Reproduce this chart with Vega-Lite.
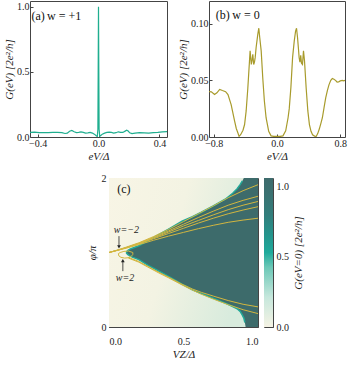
{
  "$schema": "https://vega.github.io/schema/vega-lite/v6.json",
  "padding": {"left": 3, "top": 0, "right": 0, "bottom": 0},
  "background": "white",
  "config": {
    "font": "Liberation Serif",
    "style": {
      "guide-label": {"font": "Liberation Serif", "fontSize": 10, "fill": "#222"},
      "guide-title": {"font": "Liberation Serif", "fontSize": 11, "fontStyle": "italic", "fontWeight": "normal", "fill": "#222"}
    },
    "view": {"stroke": "#444", "strokeWidth": 1},
    "axis": {
      "labelFont": "Liberation Serif", "labelFontSize": 10, "labelColor": "#222",
      "titleFont": "Liberation Serif", "titleFontSize": 11, "titleFontStyle": "italic",
      "titleFontWeight": "normal", "titleColor": "#222",
      "grid": false, "domain": false, "tickColor": "#444", "tickSize": -3, "labelPadding": 4, "titlePadding": 2
    }
  },
  "datasets": {
    "a": [
      {"e": -0.45, "g": 0.036}, {"e": -0.42, "g": 0.037}, {"e": -0.39, "g": 0.034}, {"e": -0.36, "g": 0.033},
      {"e": -0.33, "g": 0.034}, {"e": -0.3, "g": 0.036}, {"e": -0.27, "g": 0.035}, {"e": -0.24, "g": 0.033},
      {"e": -0.22, "g": 0.027}, {"e": -0.205, "g": 0.03}, {"e": -0.19, "g": 0.044}, {"e": -0.175, "g": 0.05},
      {"e": -0.16, "g": 0.04}, {"e": -0.145, "g": 0.034}, {"e": -0.13, "g": 0.036}, {"e": -0.115, "g": 0.04},
      {"e": -0.1, "g": 0.036}, {"e": -0.085, "g": 0.03}, {"e": -0.07, "g": 0.032}, {"e": -0.055, "g": 0.035},
      {"e": -0.04, "g": 0.03}, {"e": -0.025, "g": 0.02}, {"e": -0.015, "g": 0.01}, {"e": -0.008, "g": 0.004},
      {"e": -0.004, "g": 0.06}, {"e": -0.002, "g": 0.5}, {"e": 0, "g": 1.0}, {"e": 0.002, "g": 0.5},
      {"e": 0.004, "g": 0.06}, {"e": 0.008, "g": 0.004}, {"e": 0.015, "g": 0.012}, {"e": 0.025, "g": 0.022},
      {"e": 0.04, "g": 0.03}, {"e": 0.055, "g": 0.035}, {"e": 0.07, "g": 0.037}, {"e": 0.085, "g": 0.035},
      {"e": 0.1, "g": 0.03}, {"e": 0.115, "g": 0.033}, {"e": 0.13, "g": 0.04}, {"e": 0.145, "g": 0.036},
      {"e": 0.16, "g": 0.035}, {"e": 0.175, "g": 0.045}, {"e": 0.185, "g": 0.052}, {"e": 0.195, "g": 0.046},
      {"e": 0.205, "g": 0.032}, {"e": 0.22, "g": 0.026}, {"e": 0.24, "g": 0.03}, {"e": 0.27, "g": 0.034},
      {"e": 0.3, "g": 0.032}, {"e": 0.33, "g": 0.03}, {"e": 0.36, "g": 0.033}, {"e": 0.39, "g": 0.036},
      {"e": 0.42, "g": 0.04}, {"e": 0.45, "g": 0.042}
    ],
    "b": [
      {"e": -0.86, "g": 0.04}, {"e": -0.83, "g": 0.0398}, {"e": -0.79, "g": 0.0375}, {"e": -0.76, "g": 0.039},
      {"e": -0.725, "g": 0.042}, {"e": -0.69, "g": 0.041}, {"e": -0.65, "g": 0.04}, {"e": -0.62, "g": 0.0375},
      {"e": -0.58, "g": 0.0286}, {"e": -0.536, "g": 0.014}, {"e": -0.515, "g": 0.0075}, {"e": -0.494, "g": 0.0035},
      {"e": -0.48, "g": 0.0006}, {"e": -0.46, "g": 0.002}, {"e": -0.43, "g": 0.006}, {"e": -0.41, "g": 0.011},
      {"e": -0.39, "g": 0.023}, {"e": -0.369, "g": 0.043}, {"e": -0.348, "g": 0.067}, {"e": -0.34, "g": 0.076},
      {"e": -0.325, "g": 0.064}, {"e": -0.315, "g": 0.068}, {"e": -0.306, "g": 0.073}, {"e": -0.295, "g": 0.064},
      {"e": -0.285, "g": 0.066}, {"e": -0.276, "g": 0.07}, {"e": -0.264, "g": 0.079}, {"e": -0.243, "g": 0.0906},
      {"e": -0.23, "g": 0.096}, {"e": -0.218, "g": 0.0876}, {"e": -0.2, "g": 0.076}, {"e": -0.18, "g": 0.052},
      {"e": -0.16, "g": 0.032}, {"e": -0.138, "g": 0.017}, {"e": -0.105, "g": 0.005}, {"e": -0.075, "g": 0.001},
      {"e": -0.04, "g": 0.0005}, {"e": 0, "g": 0.0005}, {"e": 0.04, "g": 0.0005}, {"e": 0.075, "g": 0.001},
      {"e": 0.11, "g": 0.0055}, {"e": 0.14, "g": 0.017}, {"e": 0.155, "g": 0.025}, {"e": 0.176, "g": 0.044},
      {"e": 0.197, "g": 0.07}, {"e": 0.218, "g": 0.0846}, {"e": 0.235, "g": 0.0935}, {"e": 0.247, "g": 0.096},
      {"e": 0.26, "g": 0.0876}, {"e": 0.27, "g": 0.079}, {"e": 0.28, "g": 0.07}, {"e": 0.29, "g": 0.066},
      {"e": 0.3, "g": 0.072}, {"e": 0.31, "g": 0.065}, {"e": 0.322, "g": 0.064}, {"e": 0.335, "g": 0.076},
      {"e": 0.348, "g": 0.067}, {"e": 0.369, "g": 0.043}, {"e": 0.39, "g": 0.023}, {"e": 0.41, "g": 0.011},
      {"e": 0.43, "g": 0.005}, {"e": 0.45, "g": 0.002}, {"e": 0.475, "g": 0.0008}, {"e": 0.495, "g": 0.0005},
      {"e": 0.515, "g": 0.003}, {"e": 0.535, "g": 0.007}, {"e": 0.555, "g": 0.012}, {"e": 0.574, "g": 0.017},
      {"e": 0.595, "g": 0.026}, {"e": 0.616, "g": 0.0345}, {"e": 0.637, "g": 0.041}, {"e": 0.657, "g": 0.046},
      {"e": 0.68, "g": 0.05}, {"e": 0.7, "g": 0.0516}, {"e": 0.72, "g": 0.051}, {"e": 0.74, "g": 0.05},
      {"e": 0.76, "g": 0.0485}, {"e": 0.78, "g": 0.0487}, {"e": 0.8, "g": 0.0495}, {"e": 0.825, "g": 0.05},
      {"e": 0.845, "g": 0.0495}, {"e": 0.86, "g": 0.05}
    ],
    "bound": [
      {"vz": 0.115, "lo": 1.0, "hi": 1.0}, {"vz": 0.125, "lo": 0.975, "hi": 1.025}, {"vz": 0.14, "lo": 0.955, "hi": 1.045},
      {"vz": 0.16, "lo": 0.935, "hi": 1.06}, {"vz": 0.2, "lo": 0.905, "hi": 1.09}, {"vz": 0.26, "lo": 0.83, "hi": 1.155},
      {"vz": 0.33, "lo": 0.755, "hi": 1.235}, {"vz": 0.4, "lo": 0.68, "hi": 1.315}, {"vz": 0.49, "lo": 0.575, "hi": 1.42},
      {"vz": 0.56, "lo": 0.5, "hi": 1.48}, {"vz": 0.62, "lo": 0.45, "hi": 1.54}, {"vz": 0.7, "lo": 0.385, "hi": 1.625},
      {"vz": 0.78, "lo": 0.32, "hi": 1.715}, {"vz": 0.83, "lo": 0.275, "hi": 1.795}, {"vz": 0.86, "lo": 0.245, "hi": 1.855},
      {"vz": 0.88, "lo": 0.21, "hi": 1.91}, {"vz": 0.895, "lo": 0.16, "hi": 1.96}, {"vz": 0.905, "lo": 0.12, "hi": 2.0},
      {"vz": 0.912, "lo": 0.06, "hi": 2.0}, {"vz": 0.917, "lo": 0.0, "hi": 2.0}, {"vz": 1.0, "lo": 0.0, "hi": 2.0}
    ],
    "cont": [
      {"id": "L1", "i": 0, "vz": 0, "p": 1}, {"id": "L1", "i": 1, "vz": 0.06, "p": 1.035}, {"id": "L1", "i": 2, "vz": 0.12, "p": 1.075},
      {"id": "L1", "i": 3, "vz": 0.2, "p": 1.13}, {"id": "L1", "i": 4, "vz": 0.3, "p": 1.215}, {"id": "L1", "i": 5, "vz": 0.4, "p": 1.31},
      {"id": "L1", "i": 6, "vz": 0.5, "p": 1.415}, {"id": "L1", "i": 7, "vz": 0.6, "p": 1.52}, {"id": "L1", "i": 8, "vz": 0.7, "p": 1.625},
      {"id": "L1", "i": 9, "vz": 0.8, "p": 1.735}, {"id": "L1", "i": 10, "vz": 0.9, "p": 1.83}, {"id": "L1", "i": 11, "vz": 1.0, "p": 1.91},
      {"id": "L2", "i": 0, "vz": 0, "p": 1}, {"id": "L2", "i": 1, "vz": 0.06, "p": 1.033}, {"id": "L2", "i": 2, "vz": 0.12, "p": 1.07},
      {"id": "L2", "i": 3, "vz": 0.2, "p": 1.125}, {"id": "L2", "i": 4, "vz": 0.3, "p": 1.205}, {"id": "L2", "i": 5, "vz": 0.4, "p": 1.29},
      {"id": "L2", "i": 6, "vz": 0.5, "p": 1.38}, {"id": "L2", "i": 7, "vz": 0.6, "p": 1.47}, {"id": "L2", "i": 8, "vz": 0.7, "p": 1.555},
      {"id": "L2", "i": 9, "vz": 0.8, "p": 1.635}, {"id": "L2", "i": 10, "vz": 0.9, "p": 1.7}, {"id": "L2", "i": 11, "vz": 1.0, "p": 1.755},
      {"id": "L3", "i": 0, "vz": 0, "p": 1}, {"id": "L3", "i": 1, "vz": 0.06, "p": 1.032}, {"id": "L3", "i": 2, "vz": 0.12, "p": 1.068},
      {"id": "L3", "i": 3, "vz": 0.2, "p": 1.12}, {"id": "L3", "i": 4, "vz": 0.3, "p": 1.195}, {"id": "L3", "i": 5, "vz": 0.4, "p": 1.275},
      {"id": "L3", "i": 6, "vz": 0.5, "p": 1.355}, {"id": "L3", "i": 7, "vz": 0.6, "p": 1.43}, {"id": "L3", "i": 8, "vz": 0.7, "p": 1.505},
      {"id": "L3", "i": 9, "vz": 0.8, "p": 1.575}, {"id": "L3", "i": 10, "vz": 0.9, "p": 1.635}, {"id": "L3", "i": 11, "vz": 1.0, "p": 1.685},
      {"id": "L4", "i": 0, "vz": 0, "p": 1}, {"id": "L4", "i": 1, "vz": 0.06, "p": 1.031}, {"id": "L4", "i": 2, "vz": 0.12, "p": 1.066},
      {"id": "L4", "i": 3, "vz": 0.2, "p": 1.115}, {"id": "L4", "i": 4, "vz": 0.3, "p": 1.185}, {"id": "L4", "i": 5, "vz": 0.4, "p": 1.255},
      {"id": "L4", "i": 6, "vz": 0.5, "p": 1.325}, {"id": "L4", "i": 7, "vz": 0.6, "p": 1.395}, {"id": "L4", "i": 8, "vz": 0.7, "p": 1.46},
      {"id": "L4", "i": 9, "vz": 0.8, "p": 1.52}, {"id": "L4", "i": 10, "vz": 0.9, "p": 1.57}, {"id": "L4", "i": 11, "vz": 1.0, "p": 1.615},
      {"id": "L5", "i": 0, "vz": 0, "p": 1}, {"id": "L5", "i": 1, "vz": 0.06, "p": 1.03}, {"id": "L5", "i": 2, "vz": 0.12, "p": 1.06},
      {"id": "L5", "i": 3, "vz": 0.2, "p": 1.105}, {"id": "L5", "i": 4, "vz": 0.3, "p": 1.165}, {"id": "L5", "i": 5, "vz": 0.4, "p": 1.22},
      {"id": "L5", "i": 6, "vz": 0.5, "p": 1.27}, {"id": "L5", "i": 7, "vz": 0.6, "p": 1.32}, {"id": "L5", "i": 8, "vz": 0.7, "p": 1.365},
      {"id": "L5", "i": 9, "vz": 0.8, "p": 1.405}, {"id": "L5", "i": 10, "vz": 0.9, "p": 1.435}, {"id": "L5", "i": 11, "vz": 1.0, "p": 1.46},
      {"id": "M1", "i": 0, "vz": 0.13, "p": 0.935}, {"id": "M1", "i": 1, "vz": 0.2, "p": 0.88}, {"id": "M1", "i": 2, "vz": 0.26, "p": 0.815},
      {"id": "M1", "i": 3, "vz": 0.33, "p": 0.74}, {"id": "M1", "i": 4, "vz": 0.4, "p": 0.67}, {"id": "M1", "i": 5, "vz": 0.49, "p": 0.575},
      {"id": "M1", "i": 6, "vz": 0.56, "p": 0.51}, {"id": "M1", "i": 7, "vz": 0.62, "p": 0.465}, {"id": "M1", "i": 8, "vz": 0.7, "p": 0.415},
      {"id": "M1", "i": 9, "vz": 0.8, "p": 0.355}, {"id": "M1", "i": 10, "vz": 0.9, "p": 0.305}, {"id": "M1", "i": 11, "vz": 1.0, "p": 0.27},
      {"id": "M2", "i": 0, "vz": 0.13, "p": 0.925}, {"id": "M2", "i": 1, "vz": 0.2, "p": 0.87}, {"id": "M2", "i": 2, "vz": 0.26, "p": 0.805},
      {"id": "M2", "i": 3, "vz": 0.33, "p": 0.73}, {"id": "M2", "i": 4, "vz": 0.4, "p": 0.66}, {"id": "M2", "i": 5, "vz": 0.49, "p": 0.565},
      {"id": "M2", "i": 6, "vz": 0.56, "p": 0.495}, {"id": "M2", "i": 7, "vz": 0.62, "p": 0.44}, {"id": "M2", "i": 8, "vz": 0.7, "p": 0.375},
      {"id": "M2", "i": 9, "vz": 0.8, "p": 0.3}, {"id": "M2", "i": 10, "vz": 0.9, "p": 0.232}, {"id": "M2", "i": 11, "vz": 1.0, "p": 0.18},
      {"id": "W", "i": 0, "vz": 0.16, "p": 1.0}, {"id": "W", "i": 1, "vz": 0.13, "p": 1.02}, {"id": "W", "i": 2, "vz": 0.1, "p": 1.015},
      {"id": "W", "i": 3, "vz": 0.075, "p": 1.0}, {"id": "W", "i": 4, "vz": 0.063, "p": 0.985}, {"id": "W", "i": 5, "vz": 0.066, "p": 0.955},
      {"id": "W", "i": 6, "vz": 0.08, "p": 0.935}, {"id": "W", "i": 7, "vz": 0.105, "p": 0.925}, {"id": "W", "i": 8, "vz": 0.13, "p": 0.93},
      {"id": "W", "i": 9, "vz": 0.15, "p": 0.95}, {"id": "W", "i": 10, "vz": 0.16, "p": 0.975}, {"id": "W", "i": 11, "vz": 0.16, "p": 1.0}
    ]
  },
  "vconcat": [
    {
      "hconcat": [
        {
          "width": 137, "height": 136,
          "layer": [
            {
              "data": {"name": "a"},
              "mark": {"type": "line", "color": "#1fae8f", "strokeWidth": 1.2, "clip": true},
              "encoding": {
                "x": {"field": "e", "type": "quantitative", "scale": {"domain": [-0.45, 0.45], "nice": false, "zero": false},
                      "axis": {"values": [-0.4, -0.2, 0, 0.2, 0.4], "format": ".1f", "title": "eV/Δ", "labelFont": "Liberation Serif", "titleFont": "Liberation Serif"}},
                "y": {"field": "g", "type": "quantitative", "scale": {"domain": [0, 1.045], "nice": false},
                      "axis": {"values": [0, 0.5, 1], "format": ".1f", "title": "G(eV) [2e²/h]", "labelFont": "Liberation Serif", "titleFont": "Liberation Serif"}}
              }
            },
            {
              "data": {"values": [{"e": -0.44, "g": 0.93, "t": "(a)", "s": "normal"}, {"e": -0.338, "g": 0.93, "t": "w = +1", "s": "italic"}]},
              "mark": {"type": "text", "align": "left", "baseline": "middle", "fontSize": 12, "font": "Liberation Serif", "color": "#111"},
              "encoding": {"x": {"field": "e", "type": "quantitative"}, "y": {"field": "g", "type": "quantitative"}, "text": {"field": "t"},
                           "fontStyle": {"condition": {"test": "datum.s === 'italic'", "value": "italic"}, "value": "normal"}}
            }
          ]
        },
        {
          "width": 136, "height": 136,
          "layer": [
            {
              "data": {"name": "b"},
              "mark": {"type": "line", "color": "#a89b2c", "strokeWidth": 1.2, "clip": true},
              "encoding": {
                "x": {"field": "e", "type": "quantitative", "scale": {"domain": [-0.86, 0.86], "nice": false, "zero": false},
                      "axis": {"values": [-0.8, -0.4, 0, 0.4, 0.8], "format": ".1f", "title": "eV/Δ", "labelFont": "Liberation Serif", "titleFont": "Liberation Serif"}},
                "y": {"field": "g", "type": "quantitative", "scale": {"domain": [0, 0.12], "nice": false},
                      "axis": {"values": [0, 0.05, 0.1], "format": ".2f", "title": "G(eV) [2e²/h]", "labelFont": "Liberation Serif", "titleFont": "Liberation Serif"}}
              }
            },
            {
              "data": {"values": [{"e": -0.775, "g": 0.108, "t": "(b)", "s": "normal"}, {"e": -0.565, "g": 0.108, "t": "w = 0", "s": "italic"}]},
              "mark": {"type": "text", "align": "left", "baseline": "middle", "fontSize": 12, "font": "Liberation Serif", "color": "#111"},
              "encoding": {"x": {"field": "e", "type": "quantitative"}, "y": {"field": "g", "type": "quantitative"}, "text": {"field": "t"},
                           "fontStyle": {"condition": {"test": "datum.s === 'italic'", "value": "italic"}, "value": "normal"}}
            }
          ]
        }
      ],
      "spacing": 9
    },
    {
      "hconcat": [
        {
          "width": 51, "height": 10,
          "view": {"stroke": null},
          "data": {"values": []},
          "mark": {"type": "point", "opacity": 0}
        },
        {
          "width": 149, "height": 149,
          "layer": [
            {
              "data": {"values": [{"x0": 0, "x1": 1, "y0": 0, "y1": 2}]},
              "mark": {"type": "rect", "fill": {"gradient": "linear", "x1": 0, "y1": 0, "x2": 1, "y2": 0.3,
                "stops": [{"offset": 0, "color": "#f8f5e5"}, {"offset": 0.5, "color": "#f3f3e3"}, {"offset": 1, "color": "#d8ebdd"}]}},
              "encoding": {
                "x": {"field": "x0", "type": "quantitative", "scale": {"domain": [0, 1], "nice": false},
                      "axis": {"values": [0, 0.5, 1], "format": ".1f", "title": "VZ/Δ", "labelPadding": 12, "labelFont": "Liberation Serif", "titleFont": "Liberation Serif"}},
                "x2": {"field": "x1"},
                "y": {"field": "y0", "type": "quantitative", "scale": {"domain": [0, 2], "nice": false},
                      "axis": {"values": [0, 1, 2], "format": "d", "title": "φ/π", "labelPadding": 6, "titlePadding": 4, "labelFont": "Liberation Serif", "titleFont": "Liberation Serif"}},
                "y2": {"field": "y1"}
              }
            },
            {
              "data": {"name": "bound"},
              "mark": {"type": "area", "color": "#3d6b6b", "clip": true},
              "encoding": {
                "x": {"field": "vz", "type": "quantitative"},
                "y": {"field": "lo", "type": "quantitative"},
                "y2": {"field": "hi"}
              }
            },
            {
              "data": {"name": "bound"},
              "transform": [{"fold": ["lo", "hi"], "as": ["side", "val"]}, {"filter": "datum.val > 0 && datum.val < 2"}],
              "mark": {"type": "line", "color": "#22a897", "strokeWidth": 1.5, "clip": true},
              "encoding": {
                "x": {"field": "vz", "type": "quantitative"},
                "y": {"field": "val", "type": "quantitative"},
                "detail": {"field": "side"}
              }
            },
            {
              "data": {"name": "cont"},
              "mark": {"type": "line", "color": "#d2b640", "strokeWidth": 1, "clip": true},
              "encoding": {
                "x": {"field": "vz", "type": "quantitative"},
                "y": {"field": "p", "type": "quantitative"},
                "detail": {"field": "id"},
                "order": {"field": "i", "type": "quantitative"}
              }
            },
            {
              "data": {"values": [{"vz": 0.067, "p1": 1.22, "p2": 1.08}, {"vz": 0.093, "p1": 0.75, "p2": 0.885}]},
              "mark": {"type": "rule", "color": "#222", "strokeWidth": 0.8},
              "encoding": {
                "x": {"field": "vz", "type": "quantitative"},
                "y": {"field": "p1", "type": "quantitative"},
                "y2": {"field": "p2"}
              }
            },
            {
              "data": {"values": [{"vz": 0.067, "p": 1.075, "s": "triangle-down"}, {"vz": 0.093, "p": 0.89, "s": "triangle-up"}]},
              "mark": {"type": "point", "filled": true, "color": "#222", "size": 14, "opacity": 1},
              "encoding": {
                "x": {"field": "vz", "type": "quantitative"},
                "y": {"field": "p", "type": "quantitative"},
                "shape": {"field": "s", "type": "nominal", "scale": {"domain": ["triangle-down", "triangle-up"], "range": ["triangle-down", "triangle-up"]}, "legend": null}
              }
            },
            {
              "data": {"values": [{"vz": 0.117, "p": 1.3, "t": "w=−2"}, {"vz": 0.107, "p": 0.66, "t": "w=2"}]},
              "mark": {"type": "text", "fontSize": 10, "font": "Liberation Serif", "fontStyle": "italic", "color": "#222"},
              "encoding": {
                "x": {"field": "vz", "type": "quantitative"},
                "y": {"field": "p", "type": "quantitative"},
                "text": {"field": "t"}
              }
            },
            {
              "data": {"values": [{"vz": 0.1, "p": 1.85, "t": "(c)"}]},
              "mark": {"type": "text", "fontSize": 12, "font": "Liberation Serif", "color": "#111"},
              "encoding": {
                "x": {"field": "vz", "type": "quantitative"},
                "y": {"field": "p", "type": "quantitative"},
                "text": {"field": "t"}
              }
            }
          ]
        },
        {
          "width": 9, "height": 149,
          "data": {"values": [{"lo": 0, "hi": 1.06}]},
          "mark": {"type": "rect", "fill": {"gradient": "linear", "x1": 0, "y1": 1, "x2": 0, "y2": 0,
            "stops": [{"offset": 0, "color": "#f5f3e4"}, {"offset": 0.2, "color": "#c6e7dc"}, {"offset": 0.4, "color": "#6cc8b7"},
                      {"offset": 0.5, "color": "#1faa9b"}, {"offset": 0.62, "color": "#24948c"}, {"offset": 0.75, "color": "#327e7c"},
                      {"offset": 0.9, "color": "#3b7171"}, {"offset": 1, "color": "#3e6b6c"}]}},
          "encoding": {
            "y": {"field": "lo", "type": "quantitative", "scale": {"domain": [0, 1.06], "nice": false},
                  "axis": {"orient": "right", "values": [0, 0.5, 1], "format": ".1f", "title": "G(eV=0) [2e²/h]", "titleAngle": 270, "titleBaseline": "top", "labelPadding": 6, "titlePadding": 4, "labelFont": "Liberation Serif", "titleFont": "Liberation Serif"}},
            "y2": {"field": "hi"}
          }
        }
      ],
      "spacing": 4
    }
  ],
  "spacing": 10
}
